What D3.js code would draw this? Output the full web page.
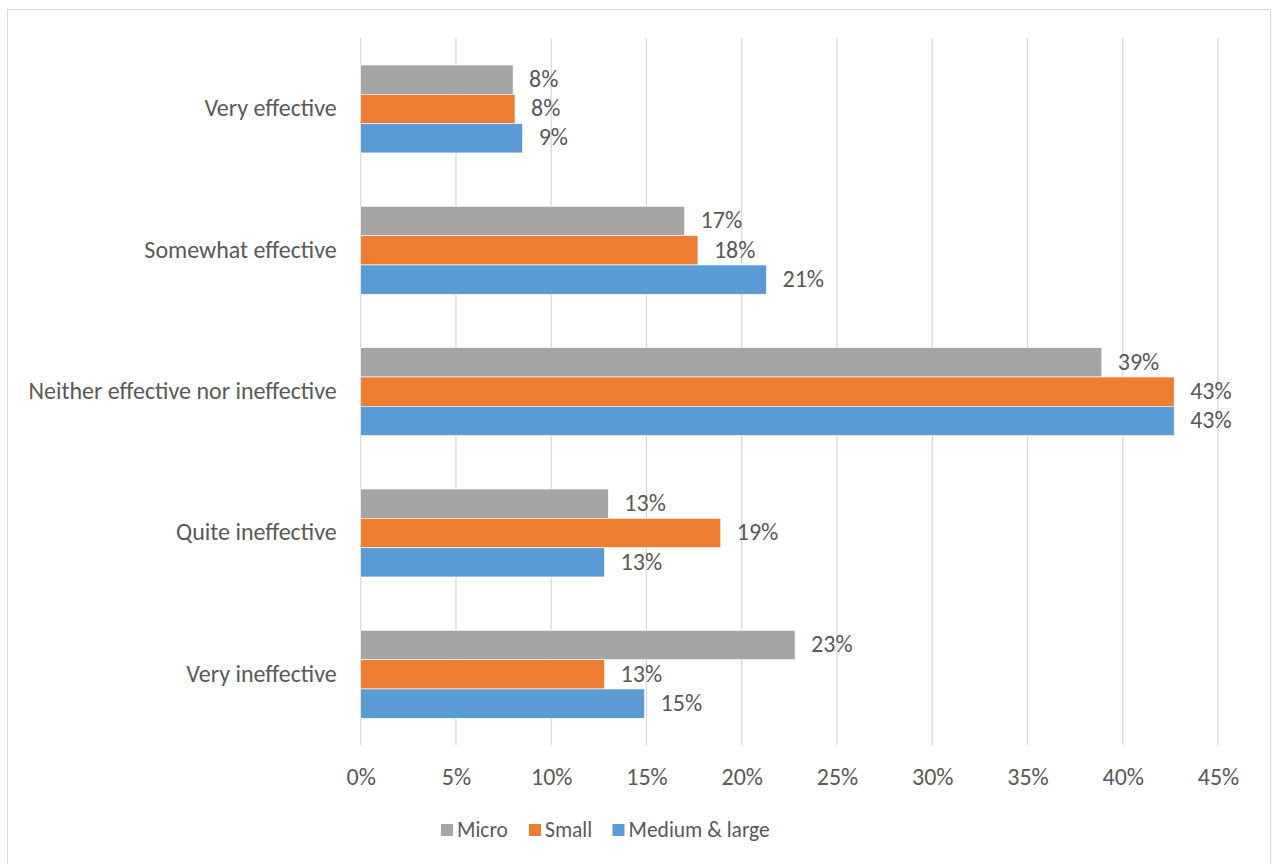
<!DOCTYPE html>
<html>
<head>
<meta charset="utf-8">
<script src="https://cdn.jsdelivr.net/npm/d3@7"></script>
<style>
  html, body { margin: 0; padding: 0; background: #fff; }
  svg { display: block; }
  text { font-family: Carlito, Calibri, Lato, "Open Sans", sans-serif; fill: #595959; }
</style>
</head>
<body>
<svg id="chart" width="1272" height="864"></svg>
<script>
const categories = ["Very effective", "Somewhat effective", "Neither effective nor ineffective", "Quite ineffective", "Very ineffective"];
const seriesNames = ["Micro", "Small", "Medium & large"];
const micro  = [8.0, 17.0, 38.9, 13.0, 22.8];
const small  = [8.1, 17.7, 42.7, 18.9, 12.8];
const medium = [8.5, 21.3, 42.7, 12.8, 14.9];
const xTicks = [0, 5, 10, 15, 20, 25, 30, 35, 40, 45];
const colors = ["#A5A5A5", "#ED7D31", "#5B9BD5"];

const seriesValues = [micro, small, medium];
const svg = d3.select("#chart");

// chart border
svg.append("rect").attr("x", 7.5).attr("y", 9.5).attr("width", 1263).attr("height", 860)
  .attr("fill", "none").attr("stroke", "#D9D9D9").attr("stroke-width", 1);

const plot = { left: 360.7, right: 1218, top: 38.3, bottom: 745 };

const x = d3.scaleLinear().domain([0, 45]).range([plot.left, plot.right]);
const y0 = d3.scaleBand().domain(categories).range([plot.top, plot.bottom]).paddingInner(0.378).paddingOuter(0.189);
const y1 = d3.scaleBand().domain(seriesNames).range([0, y0.bandwidth()]);

// gridlines
svg.append("g").selectAll("line").data(xTicks).join("line")
  .attr("x1", d => x(d)).attr("x2", d => x(d))
  .attr("y1", plot.top).attr("y2", plot.bottom)
  .attr("stroke", "#D9D9D9").attr("stroke-width", 1.3);

// x axis labels
const xAxis = d3.axisBottom(x).tickValues(xTicks).tickFormat(d => d + "%").tickSize(0).tickPadding(0);
const gx = svg.append("g").attr("transform", `translate(0, ${plot.bottom})`).call(xAxis);
gx.select(".domain").remove();
gx.selectAll("text").attr("dy", null).attr("y", 34).attr("dominant-baseline", "middle")
  .style("font-size", "24px").attr("fill", "#595959");

// y axis labels
const yAxis = d3.axisLeft(y0).tickSize(0).tickPadding(0);
const gy = svg.append("g").attr("transform", `translate(${plot.left - 24}, 1.5)`).call(yAxis);
gy.select(".domain").remove();
gy.selectAll("text").attr("dy", null).attr("dominant-baseline", "middle")
  .style("font-size", "24px").attr("fill", "#595959");

// bars
const groups = svg.append("g").selectAll("g").data(categories).join("g")
  .attr("transform", d => `translate(0, ${y0(d)})`);

groups.each(function(cat, ci) {
  const g = d3.select(this);
  seriesNames.forEach((s, si) => {
    const v = seriesValues[si][ci];
    g.append("rect")
      .attr("x", x(0)).attr("y", y1(s))
      .attr("width", x(v) - x(0)).attr("height", y1.bandwidth())
      .attr("fill", colors[si]).attr("stroke", "#fff").attr("stroke-width", 0.6);
    g.append("text")
      .attr("x", x(v) + 16).attr("y", y1(s) + y1.bandwidth() / 2 + 1.5)
      .attr("dominant-baseline", "middle")
      .style("font-size", "24px").attr("fill", "#404040")
      .text(Math.round(v) + "%");
  });
});

// legend
const legendItems = [
  { name: seriesNames[0], x: 441 },
  { name: seriesNames[1], x: 529 },
  { name: seriesNames[2], x: 612.5 }
];
const lg = svg.append("g");
legendItems.forEach((it, i) => {
  lg.append("rect").attr("x", it.x).attr("y", 824).attr("width", 12).attr("height", 12).attr("fill", colors[i]);
  lg.append("text").attr("x", it.x + 16).attr("y", 831.5).attr("dominant-baseline", "middle")
    .style("font-size", "21.5px").attr("fill", "#595959").text(it.name);
});
</script>
</body>
</html>
